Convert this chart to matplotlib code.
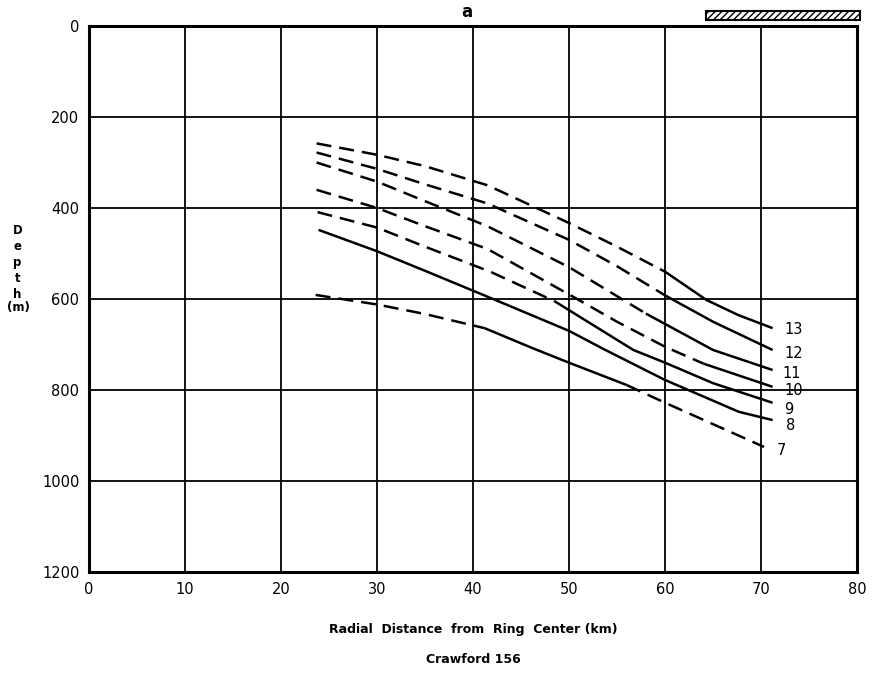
import matplotlib
matplotlib.use("Agg")
import matplotlib.pyplot as plt
from matplotlib.patches import Rectangle
import matplotlib.transforms as mtransforms

# depth profiles (radial distance km, depth m)
x13 = [23.7, 30, 35, 41.5, 50, 55, 60, 64.3, 67.6, 71.2]
d13 = [258, 283, 308, 350, 433, 485, 540, 602, 635, 664]
x12 = [23.7, 30, 35, 41.5, 50, 55, 60, 65, 71.2]
d12 = [278, 314, 348, 390, 470, 528, 592, 650, 712]
x11 = [23.7, 30, 35, 41.5, 50, 58, 65, 71.2]
d11 = [300, 342, 385, 440, 530, 632, 712, 756]
x10 = [23.7, 30, 35, 41.5, 50, 55, 60, 64, 71.2]
d10 = [360, 400, 440, 490, 590, 650, 705, 742, 793]
x9 = [23.8, 30, 35, 41.8, 48.5, 56.7, 60, 65, 71.2]
d9 = [409, 443, 485, 540, 605, 712, 740, 785, 828]
x8 = [23.9, 30, 35, 42.2, 50, 53.6, 60, 67.7, 71.2]
d8 = [448, 495, 538, 601, 670, 710, 778, 848, 866]
x7 = [23.6, 30, 35, 41.2, 46.2, 50, 56, 60, 65, 70.3]
d7 = [591, 612, 633, 664, 708, 740, 789, 828, 875, 925]

curve_names = ['13', '12', '11', '10', '9', '8', '7']
curve_x = [x13, x12, x11, x10, x9, x8, x7]
curve_d = [d13, d12, d11, d10, d9, d8, d7]
# (start index, end index, dashed?) pieces of each curve
pieces = [
    [(0, 6, True), (6, 9, False)],
    [(0, 6, True), (6, 8, False)],
    [(0, 5, True), (5, 7, False)],
    [(0, 7, True), (7, 8, False)],
    [(0, 4, True), (4, 8, False)],
    [(0, 8, False)],
    [(0, 3, True), (3, 6, False), (6, 9, True)],
]
label_x = [72.4, 72.4, 72.2, 72.4, 72.4, 72.6, 71.6]
label_d = [668, 719, 763, 801, 842, 877, 932]

xticks = [0, 10, 20, 30, 40, 50, 60, 70, 80]
yticks = [0, 200, 400, 600, 800, 1000, 1200]

fig = plt.figure(figsize=(8.73, 6.81), dpi=100)
ax = fig.add_axes([0.102, 0.160, 0.8798, 0.8018])

ax.set_xlim(0, 80)
ax.set_ylim(1200, 0)
ax.set_xticks(xticks)
ax.set_yticks(yticks)
ax.grid(True, color='black', linewidth=1.3)
ax.tick_params(length=0, labelsize=10.5, pad=7)
for s in ax.spines.values():
    s.set_linewidth(2.2)

for name, xs, ds, segs in zip(curve_names, curve_x, curve_d, pieces):
    for i0, i1, dashed in segs:
        ls = (0, (6, 3.2)) if dashed else '-'
        ax.plot(xs[i0:i1 + 1], ds[i0:i1 + 1], color='black', linewidth=1.8,
                linestyle=ls, solid_capstyle='butt', dash_capstyle='butt')

for name, lx, ld in zip(curve_names, label_x, label_d):
    ax.text(lx, ld, name, fontsize=10.5, ha='left', va='center')

# hatched bar above the frame
trans = mtransforms.blended_transform_factory(ax.transData, ax.transAxes)
ax.add_patch(Rectangle((64.3, 1.011), 16.0, 0.016, transform=trans,
                       facecolor='white', edgecolor='black', hatch='/////',
                       linewidth=1.5, clip_on=False))

fig.text(0.535, 0.982, 'a', fontsize=12, fontweight='bold', ha='center', va='center')
fig.text(0.02, 1 - 224 / 681, 'D\ne\np\nt\nh', fontsize=8.5, fontweight='bold',
         ha='center', va='top', linespacing=1.3)
fig.text(0.021, 1 - 308 / 681, '(m)', fontsize=8.5, fontweight='bold',
         ha='center', va='center')
fig.text(0.542, 0.075, 'Radial  Distance  from  Ring  Center (km)', fontsize=9,
         fontweight='bold', ha='center', va='center')
fig.text(0.542, 0.031, 'Crawford 156', fontsize=9, fontweight='bold',
         ha='center', va='center')

fig.savefig('out.png', dpi=100)
